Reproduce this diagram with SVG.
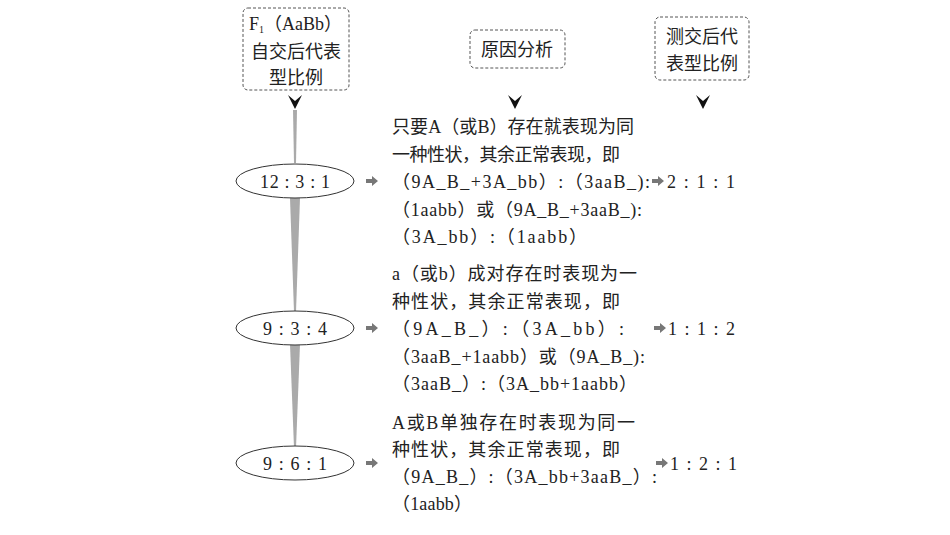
<svg xmlns="http://www.w3.org/2000/svg" width="950" height="535" viewBox="0 0 950 535">
<style>
.box{fill:#fff;stroke:#555;stroke-width:1;stroke-dasharray:3,2}
.hd{font-family:"Noto Sans CJK SC",sans-serif;font-size:18px;fill:#222;text-anchor:middle}
.t{font-family:"Liberation Serif","Noto Sans CJK SC",serif;font-size:18px;fill:#222}
.el{fill:#fff;stroke:#333;stroke-width:1}
.wedge{fill:#aaa}
.chev{fill:#111}
.sa{fill:#777}
</style>
<defs>
<path id="chev" d="M-7,-7 L0,-1 L7,-7 L0,7 Z"/>
<path id="sa" d="M-6,-2 L0,-2 L0,-5 L6,0 L0,5 L0,2 L-6,2 Z"/>
</defs>
<rect width="950" height="535" fill="#fff"/>
<g id="connectors">
<polygon class="wedge" points="293,110 297,110 296,163 294,163"/>
<polygon class="wedge" points="290,198 300,198 296,312 294,312"/>
<polygon class="wedge" points="290,344 300,344 296,448 294,448"/>
<use href="#chev" class="chev" x="295" y="102"/>
<use href="#chev" class="chev" x="515" y="102"/>
<use href="#chev" class="chev" x="703" y="102"/>
<use href="#sa" class="sa" x="372" y="181"/>
<use href="#sa" class="sa" x="372" y="328"/>
<use href="#sa" class="sa" x="372" y="463"/>
<use href="#sa" class="sa" x="658" y="181"/>
<use href="#sa" class="sa" x="660" y="328"/>
<use href="#sa" class="sa" x="662" y="463"/>
</g>
<g id="h1">
<rect class="box" x="243" y="8" width="106" height="82" rx="5"/>
<text class="t" x="249" y="30" font-size="17">F<tspan font-size="10" dy="3">1</tspan><tspan dy="-3">（AaBb）</tspan></text>
<text class="hd" x="296" y="58">自交后代表</text>
<text class="hd" x="296" y="84">型比例</text>
</g>
<g id="h2">
<rect class="box" x="470" y="30" width="95" height="38" rx="5"/>
<text class="hd" x="517" y="56">原因分析</text>
</g>
<g id="h3">
<rect class="box" x="655" y="17" width="94" height="63" rx="5"/>
<text class="hd" x="702" y="43">测交后代</text>
<text class="hd" x="702" y="70">表型比例</text>
</g>
<g id="n1">
<ellipse class="el" cx="295" cy="181" rx="59" ry="17"/>
<text class="t" x="260" y="188" textLength="70">12 : 3 : 1</text>
</g>
<g id="n2">
<ellipse class="el" cx="295" cy="328" rx="59" ry="17"/>
<text class="t" x="263" y="335" textLength="64">9 : 3 : 4</text>
</g>
<g id="n3">
<ellipse class="el" cx="295" cy="463" rx="59" ry="17"/>
<text class="t" x="263" y="470" textLength="64">9 : 6 : 1</text>
</g>
<g id="r1">
<text class="t" x="392" y="133" textLength="242">只要A（或B）存在就表现为同</text>
<text class="t" x="392" y="161" textLength="228">一种性状，其余正常表现，即</text>
<text class="t" x="392" y="188" textLength="258">（9A_B_+3A_bb）:（3aaB_):</text>
<text class="t" x="392" y="216" textLength="250">（1aabb）或（9A_B_+3aaB_):</text>
<text class="t" x="392" y="243" textLength="195">（3A_bb）:（1aabb）</text>
<text class="t" x="667" y="188" textLength="68">2 : 1 : 1</text>
</g>
<g id="r2">
<text class="t" x="392" y="280" textLength="245">a（或b）成对存在时表现为一</text>
<text class="t" x="392" y="308" textLength="228">种性状，其余正常表现，即</text>
<text class="t" x="392" y="335" textLength="232">（9A_B_）:（3A_bb）:</text>
<text class="t" x="392" y="363" textLength="253">（3aaB_+1aabb）或（9A_B_):</text>
<text class="t" x="392" y="390" textLength="245">（3aaB_）:（3A_bb+1aabb）</text>
<text class="t" x="668" y="335" textLength="67">1 : 1 : 2</text>
</g>
<g id="r3">
<text class="t" x="392" y="429" textLength="243">A或B单独存在时表现为同一</text>
<text class="t" x="392" y="456" textLength="228">种性状，其余正常表现，即</text>
<text class="t" x="392" y="483" textLength="265">（9A_B_）:（3A_bb+3aaB_）:</text>
<text class="t" x="392" y="510" textLength="80">（1aabb）</text>
<text class="t" x="670" y="470" textLength="67">1 : 2 : 1</text>
</g>
</svg>
